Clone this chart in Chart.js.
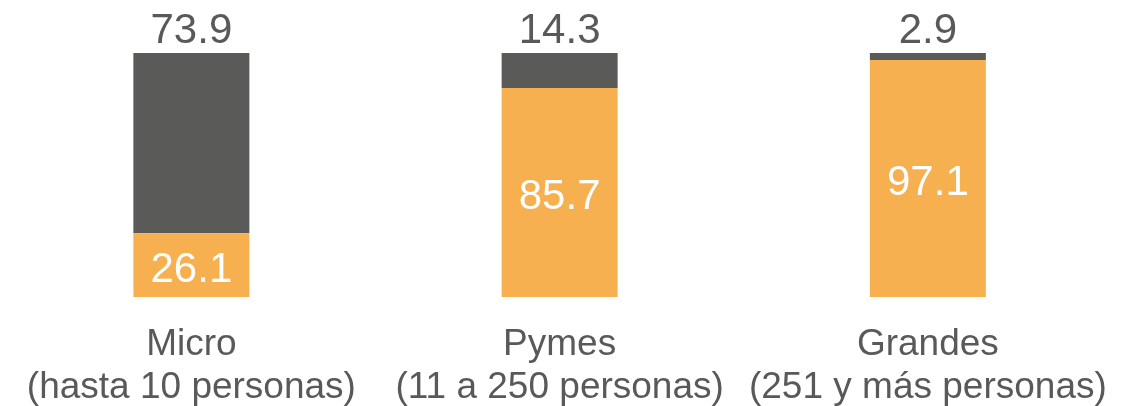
<!DOCTYPE html>
<html>
<head>
<meta charset="utf-8">
<script src="https://cdn.jsdelivr.net/npm/chart.js@4/dist/chart.umd.min.js"></script>
<style>
  html, body { margin: 0; padding: 0; background: #fff; }
  #wrap { width: 1138px; height: 406px; position: relative; }
</style>
</head>
<body>
<div id="wrap"><canvas id="size-chart"></canvas></div>
<script>
'use strict';

// ******** DATA **************
let categories = [
  ['Micro', '(hasta 10 personas)'],
  ['Pymes', '(11 a 250 personas)'],
  ['Grandes', '(251 y más personas)']
];
let orangeValues = [26.1, 85.7, 97.1];
let grayValues = [73.9, 14.3, 2.9];

let orange = '#F7B04F';
let gray = '#5A5A58';
let textGray = '#595959';
let fontName = '"Liberation Sans", Arial, sans-serif';

// ********* LABEL PLUGIN *************
// orange values centred in their segment, gray values above the bar
let valueLabels = {
  id: 'valueLabels',
  afterDatasetsDraw(chart){
    let ctx = chart.ctx;
    ctx.save();
    ctx.font = '42px ' + fontName;
    ctx.textAlign = 'center';

    let orangeMeta = chart.getDatasetMeta(0);
    orangeMeta.data.forEach((bar, i) => {
      ctx.fillStyle = '#ffffff';
      ctx.textBaseline = 'middle';
      ctx.fillText(orangeValues[i].toFixed(1), bar.x, (bar.y + bar.base) / 2 + 5);
    });

    let grayMeta = chart.getDatasetMeta(1);
    grayMeta.data.forEach((bar, i) => {
      ctx.fillStyle = textGray;
      ctx.textBaseline = 'alphabetic';
      ctx.fillText(grayValues[i].toFixed(1), bar.x, bar.y - 10);
    });
    ctx.restore();
  }
};

let chartSettings = {
  type: 'bar',
  data: {
    labels: categories,
    datasets: [{
      data: orangeValues,
      backgroundColor: orange,
      borderWidth: 0
    },
    {
      data: grayValues,
      backgroundColor: gray,
      borderWidth: 0
    }]
  },
  options: {
    responsive: true,
    maintainAspectRatio: false,
    animation: false,
    datasets: {
      bar: {
        barPercentage: 1,
        categoryPercentage: 0.315
      }
    },
    layout: {
      padding: { top: 53, left: 5, right: 26, bottom: 0 }
    },
    plugins: {
      legend: { display: false },
      tooltip: { enabled: false }
    },
    scales: {
      x: {
        stacked: true,
        grid: { display: false, drawTicks: false },
        border: { display: false },
        ticks: {
          color: textGray,
          font: { family: fontName, size: 37, lineHeight: 1.17 },
          padding: 26,
          maxRotation: 0,
          autoSkip: false
        },
        afterFit(scale){
          scale.height = 109;
        }
      },
      y: {
        stacked: true,
        display: false,
        min: 0,
        max: 100
      }
    }
  },
  plugins: [valueLabels]
};

new Chart(document.getElementById('size-chart'), chartSettings);
</script>
</body>
</html>
